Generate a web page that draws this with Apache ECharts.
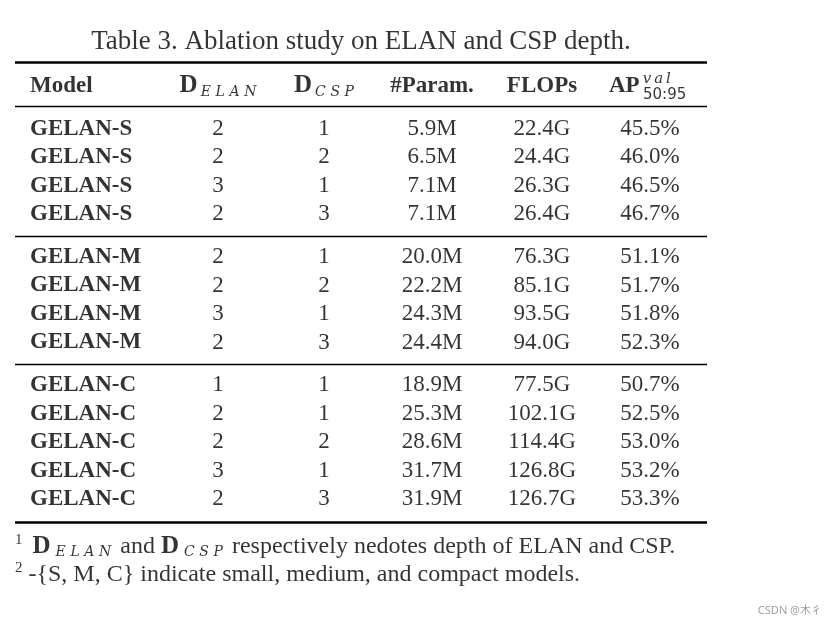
<!DOCTYPE html>
<html>
<head>
<meta charset="utf-8">
<script src="https://cdn.jsdelivr.net/npm/echarts@6/dist/echarts.min.js"></script>
<style>
html,body{margin:0;padding:0;background:#fff;}
#main{width:835px;height:625px;}
</style>
</head>
<body>
<div id="main"></div>
<script>
// ---- data ----
const titleText = 'Table 3. Ablation study on ELAN and CSP depth.';
const groupSizes = [4, 4, 5];
const models = ['GELAN-S','GELAN-S','GELAN-S','GELAN-S',
                'GELAN-M','GELAN-M','GELAN-M','GELAN-M',
                'GELAN-C','GELAN-C','GELAN-C','GELAN-C','GELAN-C'];
const dElan = [2,2,3,2, 2,2,3,2, 1,2,2,3,2];
const dCsp  = [1,2,1,3, 1,2,1,3, 1,1,2,1,3];
const paramsM = [5.9,6.5,7.1,7.1, 20.0,22.2,24.3,24.4, 18.9,25.3,28.6,31.7,31.9];
const flopsG  = [22.4,24.4,26.3,26.4, 76.3,85.1,93.5,94.0, 77.5,102.1,114.4,126.8,126.7];
const apVal   = [45.5,46.0,46.5,46.7, 51.1,51.7,51.8,52.3, 50.7,52.5,53.0,53.2,53.3];
const SP = '\u2004';
const subELAN = ['E','L','A','N'].join(SP);
const subCSP = ['C','S','P'].join(SP);
const footnotes = [
  '{sup|1} {d|D}{fs|' + subELAN + '} and {d|D}{fs|' + subCSP + '} respectively nedotes depth of ELAN and CSP.',
  '{supb|2} -{S, M, C} indicate small, medium, and compact models.'
];

// ---- layout ----
const SERIF = '"Liberation Serif","Times New Roman",serif';
const MATH = '"DejaVu Serif","Liberation Serif",serif';
const colX = {model: 30, elan: 218, csp: 324, param: 432, flops: 542, ap: 650};
const tableLeft = 15, tableRight = 707;

// row positions (in row units) with gaps between groups
const rowY = [];
const groupRuleY = [];
let y = 1.5;
groupSizes.forEach((n, g) => {
  for (let k = 0; k < n; k++) { rowY.push(y); y += 1; }
  if (g < groupSizes.length - 1) { groupRuleY.push(y - 1 + 0.78); y += 0.5; }
});
const lastRow = rowY[rowY.length - 1];

const cells = [];
function cell(x, yy, text, align, extra) {
  cells.push(Object.assign({name: text, value: [x, yy], label: {align: align || 'center'}}, extra || {}));
}
// title
cell(361, -1.55, titleText, 'center', {label: {align: 'center', fontSize: 27, fontWeight: 'normal'}});
// header
cell(colX.model, 0, '{b|Model}', 'left');
cell(colX.elan, 0, '{d|D}{s|' + subELAN + '}');
cell(colX.csp, 0, '{d|D}{s|' + subCSP + '}');
cell(colX.param, 0, '{b|#Param.}');
cell(colX.flops, 0, '{b|FLOPs}');
cell(colX.ap, 0, '{b|AP}{sup2|v\u2009a\u2009l}', 'left', {label: {align: 'left', offset: [-41, 0]}});
cell(colX.ap, 0, '{sub2|50:95}', 'left', {label: {align: 'left', offset: [-7, 9]}});
// body
models.forEach((m, i) => {
  cell(colX.model, rowY[i], '{b|' + m + '}', 'left');
  cell(colX.elan, rowY[i], String(dElan[i]));
  cell(colX.csp, rowY[i], String(dCsp[i]));
  cell(colX.param, rowY[i], paramsM[i].toFixed(1) + 'M');
  cell(colX.flops, rowY[i], flopsG[i].toFixed(1) + 'G');
  cell(colX.ap, rowY[i], apVal[i].toFixed(1) + '%');
});
// footnotes
footnotes.forEach((f, i) => cell(tableLeft, lastRow + 1.66 + i * 0.98, f, 'left',
  {label: {align: 'left', fontSize: 24}}));

const rules = [
  {y: -0.82, w: 2.5},
  {y: 0.72, w: 1.3}
].concat(groupRuleY.map(v => ({y: v, w: 1.3})))
 .concat([{y: lastRow + 0.82, w: 2.5}]);

const chart = echarts.init(document.getElementById('main'), null, {renderer: 'canvas'});
chart.setOption({
  backgroundColor: '#ffffff',
  animation: false,
  grid: {left: 0, right: 0, top: 29, bottom: 26},
  xAxis: {type: 'value', min: 0, max: 835, show: false},
  yAxis: {type: 'value', min: -2, max: 18, inverse: true, show: false},
  graphic: [{
    type: 'text', right: 13, top: 605,
    style: {text: 'CSDN @木彳', fontSize: 11, fill: '#a0a0a0',
            fontFamily: '"Noto Sans","Noto Sans CJK SC",sans-serif'}
  }],
  series: [
    {
      type: 'lines', coordinateSystem: 'cartesian2d', silent: true,
      data: rules.map(r => ({coords: [[tableLeft, r.y], [tableRight, r.y]],
                             lineStyle: {width: r.w, color: '#000', opacity: 1}})),
      lineStyle: {color: '#000', width: 1.3, opacity: 1}
    },
    {
      type: 'scatter', symbolSize: 0, silent: true,
      data: cells,
      label: {
        show: true, position: 'inside', formatter: '{b}', verticalAlign: 'middle',
        fontFamily: SERIF, fontSize: 23, color: '#000',
        rich: {
          b: {fontFamily: SERIF, fontSize: 23, fontWeight: 'bold', color: '#000'},
          d: {fontFamily: SERIF, fontSize: 25, fontWeight: 'bold', color: '#000'},
          s: {fontFamily: MATH, fontSize: 14, fontStyle: 'italic', color: '#000', padding: [12, 0, 0, 3]},
          fs: {fontFamily: MATH, fontSize: 14, fontStyle: 'italic', color: '#000', padding: [12, 3, 0, 5]},
          sup: {fontFamily: SERIF, fontSize: 15, color: '#000', padding: [0, 4, 12, 0]},
          supb: {fontFamily: SERIF, fontSize: 15, color: '#000', padding: [0, 0, 12, 0]},
          sup2: {fontFamily: MATH, fontSize: 15, fontStyle: 'italic', color: '#000', padding: [0, 0, 14, 3]},
          sub2: {fontFamily: '"DejaVu Sans","Liberation Sans",sans-serif', fontSize: 15, color: '#000'}
        }
      }
    }
  ]
});
</script>
</body>
</html>
